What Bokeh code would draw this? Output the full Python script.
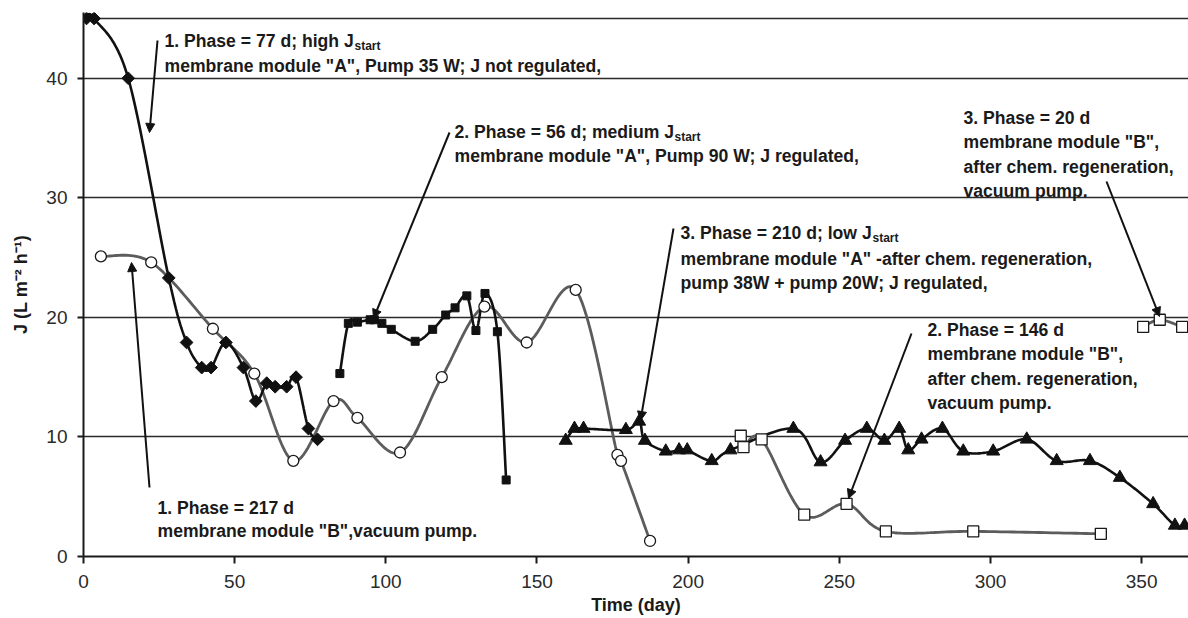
import numpy as np
from bokeh.plotting import figure
from bokeh.models import Label, Arrow, NormalHead, FixedTicker
from bokeh.embed import file_html
from bokeh.resources import INLINE

# ---------------- data ----------------
# Phase 1, module A (black diamonds)
p1a_day = [1.0, 3.5, 14.8, 28.2, 34.1, 39.1, 42.2, 47.1, 52.9, 57.0, 60.6, 63.4, 67.2, 70.3, 74.4, 77.4]
p1a_J   = [45.0, 45.0, 40.0, 23.3, 17.9, 15.8, 15.8, 17.9, 15.8, 13.0, 14.5, 14.2, 14.2, 15.0, 10.7, 9.8]
# Phase 2, module A (black squares)
p2a_day = [84.8, 87.6, 90.6, 94.8, 96.2, 98.7, 101.8, 109.7, 115.5, 119.8, 122.9, 126.8, 129.8, 132.8, 136.9, 139.8]
p2a_J   = [15.3, 19.5, 19.6, 19.8, 19.8, 19.5, 19.0, 18.0, 19.0, 20.2, 20.8, 21.8, 18.9, 22.0, 18.8, 6.4]
# Phase 3, module A (black triangles)
p3a_day = [159.5, 162.4, 165.4, 179.4, 183.8, 185.7, 192.6, 197.0, 199.7, 207.8, 214.0, 234.8, 243.8, 251.9,
           259.1, 264.9, 269.8, 272.8, 277.2, 284.1, 291.0, 300.9, 312.0, 321.9, 332.9, 342.8, 353.8, 361.0, 364.2]
p3a_J   = [9.7, 10.7, 10.7, 10.6, 11.3, 9.7, 8.8, 8.9, 8.9, 8.0, 8.9, 10.7, 7.9, 9.7,
           10.7, 9.7, 10.7, 8.9, 9.8, 10.7, 8.8, 8.8, 9.8, 8.0, 8.0, 6.6, 4.4, 2.6, 2.6]
# Phase 1, module B (open circles)
p1b_day = [5.75, 22.4, 42.8, 56.5, 69.4, 82.7, 90.6, 104.7, 118.5, 132.6, 146.6, 162.8, 176.6, 177.8, 187.4]
p1b_J   = [25.1, 24.6, 19.05, 15.3, 8.0, 13.0, 11.6, 8.7, 15.0, 20.9, 17.9, 22.3, 8.5, 8.0, 1.3]
# Phase 2, module B (open squares)
p2b_day = [217.4, 218.3, 224.3, 238.4, 252.4, 265.4, 294.3, 336.5]
p2b_J   = [10.1, 9.15, 9.8, 3.5, 4.4, 2.1, 2.1, 1.9]
# Phase 3, module B (open squares)
p3b_day = [350.5, 356.0, 363.4]
p3b_J   = [19.2, 19.8, 19.2]

x_ticks = [0, 50, 100, 150, 200, 250, 300, 350]
y_ticks = [0, 10, 20, 30, 40]

# ---------------- layout constants ----------------
XMAX, YMAX = 365.5, 45.5
FRAME_L, FRAME_T = 83.0, 12.0     # page px of frame left / top
FRAME_W, FRAME_H = 1105.0, 544.0
SX, SY = FRAME_W / XMAX, FRAME_H / YMAX


def dx(px):
    return (px - FRAME_L) / SX


def dy(py):
    return (FRAME_T + FRAME_H - py) / SY


def smooth(xs, ys, n=24):
    """Excel-like smoothed curve (cubic Bezier, Catmull-Rom tangents) in screen space."""
    P = np.column_stack([np.asarray(xs, float) * SX, np.asarray(ys, float) * SY])
    segs = []
    t = np.linspace(0, 1, n)[:, None]
    for i in range(len(P) - 1):
        p0 = P[i - 1] if i > 0 else P[i]
        p1, p2 = P[i], P[i + 1]
        p3 = P[i + 2] if i + 2 < len(P) else P[i + 1]
        c1 = p1 + (p2 - p0) / 6.0
        c2 = p2 - (p3 - p1) / 6.0
        B = (1 - t) ** 3 * p1 + 3 * (1 - t) ** 2 * t * c1 + 3 * (1 - t) * t ** 2 * c2 + t ** 3 * p2
        segs.append(B if i == 0 else B[1:])
    Q = np.vstack(segs)
    return Q[:, 0] / SX, Q[:, 1] / SY


p = figure(width=1188, height=618, x_range=(0, XMAX), y_range=(0, YMAX),
           output_backend="svg", toolbar_location=None,
           min_border_left=83, min_border_right=0, min_border_top=12, min_border_bottom=62)
p.outline_line_color = None
p.background_fill_color = "white"
p.border_fill_color = "white"

p.xgrid.visible = False
p.ygrid.ticker = FixedTicker(ticks=[10, 20, 30, 40, 45])
p.ygrid.grid_line_color = "#2a2a2a"
p.ygrid.grid_line_width = 1.6

FONT = "Liberation Sans"
for ax in (p.xaxis[0], p.yaxis[0]):
    ax.axis_line_color = "#1a1a1a"
    ax.axis_line_width = 2
    ax.major_tick_line_color = "#1a1a1a"
    ax.major_tick_line_width = 2
    ax.major_tick_in = 0
    ax.minor_tick_line_color = None
    ax.major_label_text_font = FONT
    ax.major_label_text_font_size = "19px"
    ax.major_label_text_color = "#2a2a2a"
    ax.axis_label_text_font = FONT
    ax.axis_label_text_font_style = "bold"
    ax.axis_label_text_font_size = "18px"
    ax.axis_label_text_color = "#1a1a1a"

p.xaxis.ticker = FixedTicker(ticks=x_ticks)
p.yaxis.ticker = FixedTicker(ticks=y_ticks)
p.xaxis.major_tick_out = 7
p.yaxis.major_tick_out = 6
p.xaxis.major_label_standoff = 11
p.yaxis.major_label_standoff = 10
p.xaxis.axis_label = "Time (day)"
p.yaxis.axis_label = "J (L m\u207b\u00b2 h\u207b\u00b9)"
p.xaxis.axis_label_standoff = 4
p.yaxis.axis_label_standoff = 12

GRAY = "#5c5c5c"
BLACK = "#111111"

# gray (module B) curves
for xs, ys in ((p1b_day, p1b_J), (p2b_day, p2b_J), (p3b_day, p3b_J)):
    sx_, sy_ = smooth(xs, ys)
    p.line(sx_, sy_, line_color=GRAY, line_width=2.8)

# black (module A) curves
for xs, ys in ((p1a_day, p1a_J), (p2a_day, p2a_J), (p3a_day, p3a_J)):
    sx_, sy_ = smooth(xs, ys)
    p.line(sx_, sy_, line_color=BLACK, line_width=2.6)

# markers
p.scatter(p1b_day, p1b_J, marker="circle", size=11, fill_color="white", line_color="#1a1a1a", line_width=1.3)
p.scatter(p2b_day, p2b_J, marker="square", size=11, fill_color="white", line_color="#1a1a1a", line_width=1.3)
p.scatter(p3b_day, p3b_J, marker="square", size=11, fill_color="white", line_color="#1a1a1a", line_width=1.3)
p.scatter(p1a_day, p1a_J, marker="square", angle=np.pi / 4, size=9, fill_color=BLACK, line_color=BLACK)
p.scatter(p2a_day, p2a_J, marker="square", size=8, fill_color=BLACK, line_color=BLACK)
p.scatter(p3a_day, p3a_J, marker="triangle", size=13, fill_color=BLACK, line_color=BLACK)

# ---------------- annotations ----------------
TS = "17.6px"


def txt(s, px, py, size=TS):
    p.add_layout(Label(x=dx(px), y=dy(py), text=s, text_font=FONT, text_font_style="bold",
                       text_font_size=size, text_color="#1a1a1a", text_baseline="middle",
                       text_align="left"))


def arrow(x0, y0, x1, y1):
    p.add_layout(Arrow(x_start=dx(x0), y_start=dy(y0), x_end=dx(x1), y_end=dy(y1),
                       line_color="#111111", line_width=2,
                       end=NormalHead(size=9, fill_color="#111111", line_color="#111111")))


txt("1. Phase = 77 d; high J", 164, 40)
txt("start", 354, 45.5, "12px")
txt('membrane module "A", Pump 35 W;  J not regulated,', 164, 65.5)
arrow(157, 40, 149, 132)

txt("2. Phase = 56 d; medium J", 454, 131)
txt("start", 674, 136.5, "12px")
txt('membrane module "A", Pump 90 W; J regulated,', 454, 155.5)
arrow(449, 132, 373, 318)

txt("3. Phase = 210 d; low J", 680, 232)
txt("start", 872, 237.5, "12px")
txt('membrane module "A" -after chem. regeneration,', 680, 258)
txt("pump 38W + pump 20W; J regulated,", 680, 282.5)
arrow(673, 228, 640, 420)

txt("3. Phase = 20 d", 963, 117)
txt('membrane module "B",', 963, 141.5)
txt("after chem. regeneration,", 963, 166)
txt("vacuum pump.", 963, 190)
arrow(1106, 181, 1159, 316)

txt("2. Phase = 146 d", 927, 329.5)
txt('membrane module "B",', 927, 353.5)
txt("after chem. regeneration,", 927, 378)
txt("vacuum pump.", 927, 402)
arrow(911, 333, 848, 498)

txt("1. Phase = 217 d", 157, 507)
txt('membrane module "B",vacuum pump.', 157, 530.5)
arrow(149, 487, 131, 262)

open("out.html", "w").write(file_html(p, INLINE))
